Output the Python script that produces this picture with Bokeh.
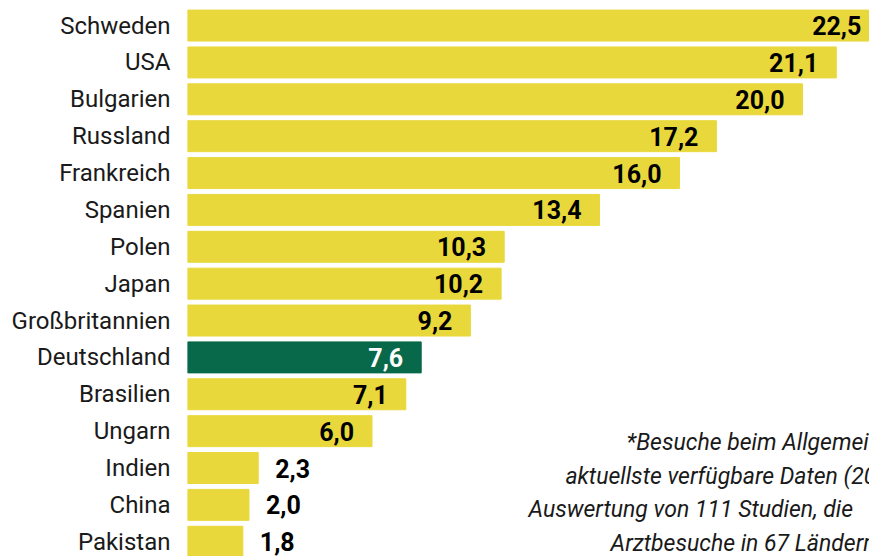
from bokeh.plotting import figure
from bokeh.models import Range1d, FixedTicker, ColumnDataSource, Label
from bokeh.core.properties import value
from bokeh.embed import file_html
from bokeh.resources import INLINE

countries = ["Schweden", "USA", "Bulgarien", "Russland", "Frankreich", "Spanien", "Polen",
             "Japan", "Großbritannien", "Deutschland", "Brasilien", "Ungarn", "Indien",
             "China", "Pakistan"]
values = [22.5, 21.1, 20.0, 17.2, 16.0, 13.4, 10.3, 10.2, 9.2, 7.6, 7.1, 6.0, 2.3, 2.0, 1.8]
highlight = "Deutschland"
note_lines = ["*Besuche beim Allgemeinmediziner",
              "aktuellste verfügbare Daten (2015)",
              "Auswertung von 111 Studien, die",
              "Arztbesuche in 67 Ländern"]

YELLOW = "#e9d83c"
GREEN = "#08684a"

idx = list(range(len(countries)))
colors = [GREEN if c == highlight else YELLOW for c in countries]
inside = [v >= 3 for v in values]
src = ColumnDataSource(dict(
    y=idx, v=values, color=colors,
    label=[f"{v:.1f}".replace(".", ",") for v in values],
    tcolor=["white" if c == highlight else "black" for c in countries],
    align=["right" if i else "left" for i in inside],
    xoff=[-18 if i else 17 for i in inside],
))

p = figure(width=869, height=556, output_backend="svg", toolbar_location=None,
           x_range=Range1d(0, 22.18), y_range=Range1d(14.40, -0.68),
           x_axis_location=None, min_border_left=187, min_border_right=0,
           min_border_top=0, min_border_bottom=0)
p.outline_line_color = None
p.grid.visible = False
p.background_fill_color = "white"

p.hbar(y="y", left=0, right="v", height=0.84, color="color", source=src)
p.text(x="v", y="y", text="label", text_color="tcolor", text_align="align",
       x_offset="xoff", text_baseline="middle", text_font_size=value("25px"),
       text_font_style="bold", text_font=value("Roboto"), source=src)

ax = p.yaxis[0]
ax.ticker = FixedTicker(ticks=idx)
ax.major_label_overrides = {i: c for i, c in zip(idx, countries)}
ax.axis_line_color = None
ax.major_tick_line_color = None
ax.minor_tick_line_color = None
ax.major_tick_in = 0
ax.major_tick_out = 0
ax.major_label_standoff = 17
ax.major_label_text_font = "Roboto"
ax.major_label_text_font_size = "24px"
ax.major_label_text_color = "#1a1a1a"

note_x = [14.28, 12.29, 11.09, 13.76]
note_y = [11.30, 12.23, 13.13, 14.05]
for t, x, y in zip(note_lines, note_x, note_y):
    p.add_layout(Label(x=x, y=y, text=t, text_font="Roboto", text_font_style="italic",
                       text_font_size="23px", text_color="#1a1a1a",
                       text_baseline="middle", text_align="left"))

open("out.html", "w").write(file_html(p, INLINE))
